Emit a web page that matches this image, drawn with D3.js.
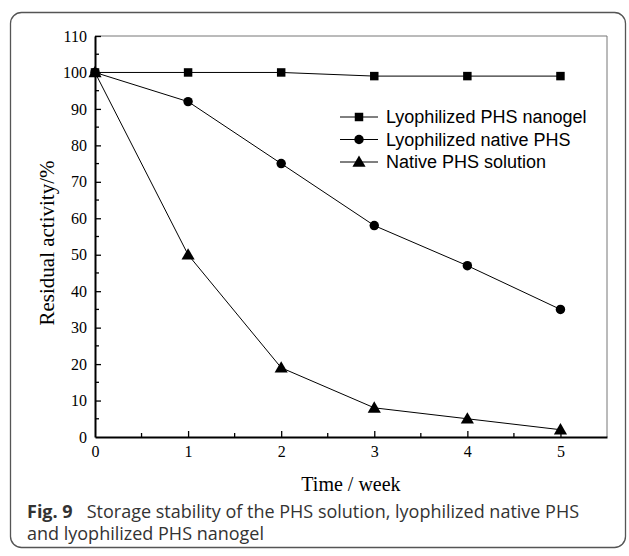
<!DOCTYPE html>
<html>
<head>
<meta charset="utf-8">
<script src="https://cdn.jsdelivr.net/npm/d3@7"></script>
<style>
  body { margin: 0; background: #fff; }
</style>
</head>
<body>
<div id="vis"></div>
<script>
const weeks = [0, 1, 2, 3, 4, 5];
const nanogel = [100, 100, 100, 99, 99, 99];
const nativeLyo = [100, 92, 75, 58, 47, 35];
const solution = [100, 50, 19, 8, 5, 2];
const seriesNames = ["Lyophilized PHS nanogel", "Lyophilized native PHS", "Native PHS solution"];
const xTicks = [0, 1, 2, 3, 4, 5];
const yTicks = [0, 10, 20, 30, 40, 50, 60, 70, 80, 90, 100, 110];

const FRAME_WIDTH = 629;
const FRAME_HEIGHT = 556;
const PLOT = {left: 95, right: 607, top: 36, bottom: 437};
const SERIF = "Liberation Serif, Times New Roman, serif";

const svg = d3.select("#vis")
  .append("svg")
  .attr("width", FRAME_WIDTH)
  .attr("height", FRAME_HEIGHT);

// outer frame
svg.append("rect")
  .attr("x", 10.5).attr("y", 12.5)
  .attr("width", 615).attr("height", 535)
  .attr("rx", 11)
  .attr("fill", "none")
  .attr("stroke", "#555")
  .attr("stroke-width", 1.3);

const x = d3.scaleLinear().domain([0, 5.5]).range([PLOT.left, PLOT.right]);
const y = d3.scaleLinear().domain([0, 110]).range([PLOT.bottom, PLOT.top]);

// top and right frame lines
svg.append("path")
  .attr("d", `M${PLOT.left},${PLOT.top}H${PLOT.right}V${PLOT.bottom}`)
  .attr("fill", "none")
  .attr("stroke", "#777")
  .attr("stroke-width", 1);

// minor ticks
const xMinor = d3.range(0.5, 5.5, 1);
const yMinor = d3.range(5, 110, 10);

const xAxis = svg.append("g")
  .attr("transform", `translate(0,${PLOT.bottom})`)
  .call(d3.axisBottom(x).tickValues(xTicks).tickSizeInner(-6).tickSizeOuter(0).tickPadding(9).tickFormat(d3.format("d")));
xAxis.append("g").selectAll("line")
  .data(xMinor).enter().append("line")
  .attr("x1", d => x(d)).attr("x2", d => x(d))
  .attr("y1", 0).attr("y2", -4)
  .attr("stroke", "#000").attr("stroke-width", 1.3);

const yAxis = svg.append("g")
  .attr("transform", `translate(${PLOT.left},0)`)
  .call(d3.axisLeft(y).tickValues(yTicks).tickSizeInner(-6).tickSizeOuter(0).tickPadding(8).tickFormat(d3.format("d")));
yAxis.append("g").selectAll("line")
  .data(yMinor).enter().append("line")
  .attr("y1", d => y(d)).attr("y2", d => y(d))
  .attr("x1", 0).attr("x2", 4)
  .attr("stroke", "#000").attr("stroke-width", 1.3);

[xAxis, yAxis].forEach(g => {
  g.select(".domain").attr("stroke-width", 2);
  g.selectAll(".tick line").attr("stroke-width", 1.3);
  g.selectAll("text")
    .attr("font-family", SERIF)
    .attr("font-size", "16px")
    .attr("fill", "#000");
});
yAxis.selectAll(".tick").filter(d => d === 0).select("line").remove();
xAxis.selectAll(".tick").filter(d => d === 0).select("line").remove();

// axis titles
svg.append("text")
  .attr("x", 351)
  .attr("y", 491)
  .attr("text-anchor", "middle")
  .attr("font-family", SERIF)
  .attr("font-size", "20px")
  .text("Time / week");

svg.append("text")
  .attr("transform", "translate(54,243) rotate(-90)")
  .attr("text-anchor", "middle")
  .attr("font-family", SERIF)
  .attr("font-size", "21px")
  .text("Residual activity/%");

// series
const allSeries = [nanogel, nativeLyo, solution];
const symbols = [d3.symbolSquare, d3.symbolCircle, d3.symbolTriangle];
const symSizes = [72, 70, 75];

const line = d3.line()
  .x((d, i) => x(weeks[i]))
  .y(d => y(d));

allSeries.forEach((vals, k) => {
  svg.append("path")
    .datum(vals)
    .attr("d", line)
    .attr("fill", "none")
    .attr("stroke", "#000")
    .attr("stroke-width", 1);

  svg.append("g").selectAll("path")
    .data(vals).enter().append("path")
    .attr("d", d3.symbol().type(symbols[k]).size(symSizes[k]))
    .attr("transform", (d, i) => `translate(${x(weeks[i])},${y(d) + (k === 2 ? 1 : 0)})`)
    .attr("fill", "#000");
});

// legend
const legend = svg.append("g")
  .selectAll("g")
  .data(seriesNames).enter().append("g")
  .attr("transform", (d, i) => `translate(340,${117 + i * 22.5})`);

legend.append("line")
  .attr("x1", 0).attr("x2", 38)
  .attr("stroke", "#000").attr("stroke-width", 1);
legend.append("path")
  .attr("d", (d, i) => d3.symbol().type(symbols[i]).size(symSizes[i])())
  .attr("transform", (d, i) => `translate(19,${i === 2 ? 1 : 0})`)
  .attr("fill", "#000");
legend.append("text")
  .attr("x", 46)
  .attr("dy", "0.35em")
  .attr("font-family", "Liberation Sans, Arial, sans-serif")
  .attr("font-size", "18px")
  .text(d => d);

// caption
const cap = svg.append("text")
  .attr("x", 27)
  .attr("y", 518)
  .attr("font-family", "Open Sans, Noto Sans, sans-serif")
  .attr("font-size", "18px")
  .attr("fill", "#333");
cap.append("tspan").attr("font-weight", "bold").text("Fig. 9");
cap.append("tspan").attr("dx", 14).text("Storage stability of the PHS solution, lyophilized native PHS");

svg.append("text")
  .attr("x", 27)
  .attr("y", 540)
  .attr("font-family", "Open Sans, Noto Sans, sans-serif")
  .attr("font-size", "18px")
  .attr("fill", "#333")
  .text("and lyophilized PHS nanogel");
</script>
</body>
</html>
